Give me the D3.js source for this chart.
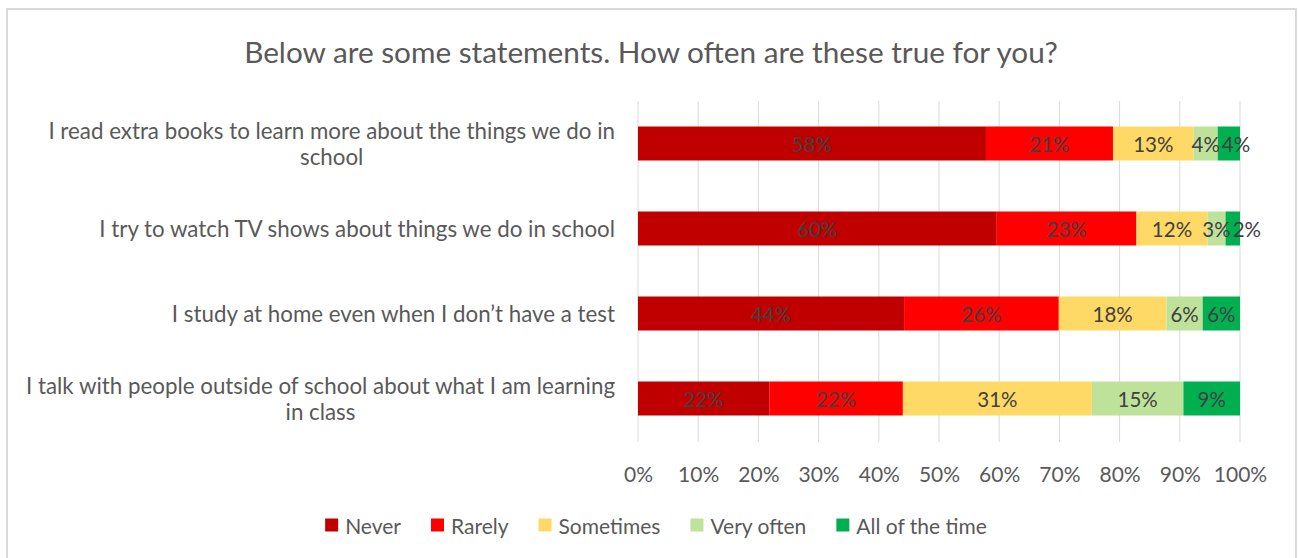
<!DOCTYPE html>
<html>
<head>
<meta charset="utf-8">
<script src="https://cdn.jsdelivr.net/npm/d3@7"></script>
<style>
  html, body { margin: 0; padding: 0; background: #fff; }
  svg { display: block; font-family: Lato, "Open Sans", sans-serif; }
</style>
</head>
<body>
<svg id="chart" width="1298" height="558"></svg>
<script>
// Survey statements (each split into display lines)
const statements = [
  ["I read extra books to learn more about the things we do in", "school"],
  ["I try to watch TV shows about things we do in school"],
  ["I study at home even when I don\u2019t have a test"],
  ["I talk with people outside of school about what I am learning", "in class"]
];
const seriesNames = ["Never", "Rarely", "Sometimes", "Very often", "All of the time"];
const seriesColors = ["#c00000", "#ff0000", "#ffd966", "#bfe29b", "#00b050"];

// Share of answers (%) per statement, in seriesNames order
const never      = [57.8, 59.6, 44.2, 21.8];
const rarely     = [21.1, 23.2, 25.7, 22.2];
const sometimes  = [13.4, 11.8, 17.9, 31.4];
const veryOften  = [4.0, 3.0, 6.0, 15.2];
const allOfTime  = [3.7, 2.4, 6.2, 9.4];

const xTicks = [0, 10, 20, 30, 40, 50, 60, 70, 80, 90, 100];
const titleText = "Below are some statements. How often are these true for you?";

const svg = d3.select("#chart");

// chart frame
svg.append("rect")
  .attr("x", 7).attr("y", 9).attr("width", 1289).attr("height", 560)
  .attr("fill", "#fff").attr("stroke", "#d9d9d9").attr("stroke-width", 2);

// fit a font size so the text spans a given width
function fitSize(text, targetWidth, base) {
  const t = svg.append("text").attr("font-size", base).text(text);
  const w = t.node().getComputedTextLength();
  t.remove();
  return base * targetWidth / w;
}

// title
svg.append("text")
  .attr("x", 651).attr("y", 51)
  .attr("text-anchor", "middle").attr("dominant-baseline", "central")
  .attr("fill", "#595959")
  .attr("font-size", fitSize(titleText, 814, 24))
  .text(titleText);

const x = d3.scaleLinear().domain([0, 100]).range([638, 1240]);
const y = d3.scaleBand().domain(d3.range(statements.length)).range([101, 441]).paddingInner(0.6).paddingOuter(0.3);

// gridlines
svg.append("g")
  .selectAll("line").data(xTicks).join("line")
  .attr("x1", d => x(d)).attr("x2", d => x(d))
  .attr("y1", 101).attr("y2", 442)
  .attr("stroke", "#d9d9d9").attr("stroke-width", 1);

// stacked segments
const rows = statements.map((s, i) => ({
  i, vals: [never[i], rarely[i], sometimes[i], veryOften[i], allOfTime[i]]
}));
const keys = d3.range(seriesNames.length);
const stack = d3.stack().keys(keys).value((d, k) => d.vals[k]);
const layers = stack(rows);

const g = svg.append("g");
layers.forEach((layer, k) => {
  g.selectAll(null).data(layer).join("rect")
    .attr("x", d => x(d[0]))
    .attr("y", d => y(d.data.i))
    .attr("width", d => x(d[1]) - x(d[0]))
    .attr("height", y.bandwidth())
    .attr("fill", seriesColors[k]);
});

// data labels, nudged right where neighbouring labels would collide
const labelSize = 20.5;
rows.forEach((row, i) => {
  let prevRight = -Infinity;
  layers.forEach((layer, k) => {
    const d = layer[i];
    const t = g.append("text")
      .attr("y", y(i) + y.bandwidth() / 2)
      .attr("text-anchor", "middle").attr("dominant-baseline", "central")
      .attr("fill", "#404040").attr("font-size", labelSize)
      .text(Math.round(d[1] - d[0]) + "%");
    const w = t.node().getComputedTextLength();
    let cx = (x(d[0]) + x(d[1])) / 2;
    if (cx - w / 2 < prevRight + 2) cx = prevRight + 2 + w / 2;
    t.attr("x", cx);
    prevRight = cx + w / 2;
  });
});

// category labels
const catSize = fitSize(statements[0][0], 567, 19);
const lineH = 26;
statements.forEach((lines, i) => {
  const cy = y(i) + y.bandwidth() / 2;
  const t = svg.append("text")
    .attr("text-anchor", "middle")
    .attr("fill", "#595959").attr("font-size", catSize);
  // widest line is right-aligned at the axis; others centred under it
  const widths = lines.map(l => {
    const tmp = svg.append("text").attr("font-size", catSize).text(l);
    const w = tmp.node().getComputedTextLength(); tmp.remove(); return w;
  });
  const maxW = d3.max(widths);
  const cx = 615 - maxW / 2;
  lines.forEach((l, j) => {
    t.append("tspan")
      .attr("x", cx)
      .attr("y", cy + (j - (lines.length - 1) / 2) * lineH)
      .attr("dominant-baseline", "central")
      .text(l);
  });
});

// x axis tick labels
const axis = d3.axisBottom(x).tickValues(xTicks).tickFormat(d => d + "%").tickSize(0).tickPadding(0);
const ax = svg.append("g").attr("transform", "translate(0,473)").call(axis);
ax.select(".domain").remove();
ax.selectAll("text")
  .attr("font-family", "Lato, 'Open Sans', sans-serif")
  .attr("font-size", 21).attr("fill", "#595959")
  .attr("dy", null).attr("y", 0).attr("dominant-baseline", "central");

// legend
const legendSize = 21, sq = 13, gapSym = 7, gapItem = 30;
const leg = svg.append("g");
let cursor = 0;
seriesNames.forEach((name, k) => {
  const item = leg.append("g");
  item.append("rect").attr("x", 0).attr("y", -sq / 2).attr("width", sq).attr("height", sq).attr("fill", seriesColors[k]);
  const t = item.append("text").attr("x", sq + gapSym).attr("y", 0)
    .attr("dominant-baseline", "central").attr("font-size", legendSize).attr("fill", "#595959").text(name);
  const w = sq + gapSym + t.node().getComputedTextLength();
  item.attr("transform", `translate(${cursor},0)`);
  cursor += w + gapItem;
});
const totalW = cursor - gapItem;
leg.attr("transform", `translate(${656 - totalW / 2},525)`);
</script>
</body>
</html>
